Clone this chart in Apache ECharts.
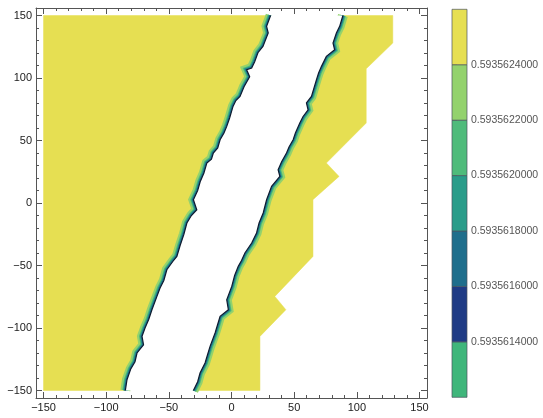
<!DOCTYPE html>
<html>
<head>
<meta charset="utf-8">
<script src="https://cdn.jsdelivr.net/npm/echarts@6/dist/echarts.min.js"></script>
<style>html,body{margin:0;padding:0;background:#fff}#c{width:543px;height:418px}</style>
</head>
<body>
<div id="c"></div>
<script>
// ---- data (data units) ----
const majorTicks = [-150, -100, -50, 0, 50, 100, 150];
const minorTicks = [-150,-140,-130,-120,-110,-100,-90,-80,-70,-60,-50,-40,-30,-20,-10,0,10,20,30,40,50,60,70,80,90,100,110,120,130,140,150];
const legendTicks = [0.5935614, 0.5935616, 0.5935618, 0.5935620, 0.5935622, 0.5935624];
const legendLevels = [0.5935612, 0.5935614, 0.5935616, 0.5935618, 0.5935620, 0.5935622, 0.5935624, 0.5935626];
const bandColors = ['#3fb67b', '#1f3b85', '#1f6e8c', '#2a9c8a', '#4fbb7b', '#93d26d', '#e6df52'];

// left region contour edge (top -> bottom)
const leftEdge = [[31.2,150],[28,141.3],[29.3,136],[25.1,125.3],[21.1,120.2],[18.5,113],[16.1,108],[12.1,106.6],[14.5,101],[10,93],[6.8,85.3],[3.5,82],[1.2,77.3],[-1.5,68],[-3.8,61.3],[-6,56],[-9.1,50.6],[-11,44],[-14.5,40],[-16,35],[-19.7,32],[-22,24],[-25,17],[-27,10],[-30.4,2.6],[-27.7,-5.4],[-32,-10],[-35.6,-16],[-38,-25],[-41,-34],[-43.6,-42.7],[-47,-47],[-51.6,-53.4],[-54,-62],[-57,-68],[-59.5,-74.7],[-63.5,-85.4],[-66,-93],[-69,-100],[-71.4,-106.7],[-70.2,-113.4],[-75.4,-120],[-77,-127],[-80.5,-133],[-83.4,-141.4],[-84.7,-150]];
// right band contour edge (top -> bottom)
const bandEdge = [[88.9,150],[86.3,141.3],[83.7,136],[81,128],[82.3,122.6],[75.7,117.3],[71.8,109.3],[69.5,104],[67.8,98.6],[63.8,85.3],[59.8,80],[61.1,74.6],[57,69],[54.5,64],[51,56],[49.2,50.6],[46,45],[43.9,40],[40,33],[37.2,26.6],[38.6,21.3],[32,13.3],[28,2.6],[25.3,-8],[22,-16],[20,-24],[16.1,-32],[10.7,-40],[8,-46],[5.4,-50.7],[2.5,-58],[0.2,-66.7],[-3.8,-77.4],[-2.5,-85.4],[-9.1,-90.7],[-11,-97],[-13.1,-104],[-17.1,-114.7],[-19,-121],[-21.1,-128],[-25.1,-136],[-27,-143],[-30.4,-150]];
// right band outer boundary (top -> bottom)
const rightBoundary = [[128.7,150],[128.7,128],[107.5,107.4],[107.5,64],[75.7,32],[85.8,21.3],[65,2.7],[65,-42.7],[34.6,-74.7],[43.4,-85.4],[22.7,-106.7],[22.7,-150]];
const plotMin = -150, plotMax = 150;

// ---- chart ----
const chart = echarts.init(document.getElementById('c'), null, {renderer: 'canvas'});
const frameColor = '#555';
const fmt = v => (v < 0 ? '\u2212' : '') + Math.abs(v);

function axis(pos, ticks, len, withLine, withLabel) {
  return {
    type: 'value', gridIndex: 0, position: pos, min: -156, max: 156,
    axisLine: {show: withLine, onZero: false, lineStyle: {color: frameColor, width: 1}},
    axisTick: {show: true, inside: true, length: len, customValues: ticks, lineStyle: {color: frameColor, width: 1}},
    axisLabel: withLabel ? {show: true, customValues: majorTicks, formatter: fmt, fontSize: 11, color: '#222', fontFamily: 'Liberation Sans, Arial, sans-serif', margin: 4} : {show: false},
    splitLine: {show: false}
  };
}

const yellow = bandColors[6];

const option = {
  animation: false,
  backgroundColor: '#fff',
  grid: [
    {left: 36, right: 116, top: 8, bottom: 20},
    {left: 452, width: 15, top: 9.3, bottom: 20.7}
  ],
  xAxis: [
    axis('bottom', majorTicks, 6, true, true),
    axis('bottom', minorTicks, 3, false, false),
    axis('top', majorTicks, 6, true, false),
    axis('top', minorTicks, 3, false, false),
    {type: 'value', gridIndex: 1, min: 0, max: 1, show: false}
  ],
  yAxis: [
    axis('left', majorTicks, 6, true, true),
    axis('left', minorTicks, 3, false, false),
    axis('right', majorTicks, 6, true, false),
    axis('right', minorTicks, 3, false, false),
    {
      type: 'value', gridIndex: 1, position: 'right',
      min: legendLevels[0], max: legendLevels[legendLevels.length - 1],
      axisLine: {show: false},
      axisTick: {show: true, length: 5, customValues: legendTicks, lineStyle: {color: '#777'}},
      axisLabel: {show: true, customValues: legendTicks, formatter: v => v.toFixed(10), fontSize: 10.5, color: '#555', fontFamily: 'Liberation Sans, Arial, sans-serif', margin: 4},
      splitLine: {show: false}
    }
  ],
  series: [
    {
      type: 'custom', coordinateSystem: 'cartesian2d', xAxisIndex: 0, yAxisIndex: 0,
      data: [[0, 0]], silent: true,
      renderItem: function (params, api) {
        const P = arr => arr.map(p => api.coord(p));
        const leftPoly = [[plotMin, plotMax]].concat(leftEdge).concat([[plotMin, plotMin]]);
        const rightPoly = rightBoundary.concat(bandEdge.slice().reverse());
        const gapPoly = leftEdge.concat(bandEdge.slice().reverse());
        const ch = [];
        ch.push({type: 'polygon', shape: {points: P(leftPoly)}, style: {fill: yellow, stroke: yellow, lineWidth: 0.5}});
        ch.push({type: 'polygon', shape: {points: P(rightPoly)}, style: {fill: yellow, stroke: yellow, lineWidth: 0.5}});
        const strokes = [[bandColors[5], 10], [bandColors[4], 6], [bandColors[3], 4.2], [bandColors[2], 2.8]];
        [leftEdge, bandEdge].forEach(edge => {
          strokes.forEach(s => {
            ch.push({type: 'polyline', shape: {points: P(edge)}, style: {fill: null, stroke: s[0], lineWidth: s[1], lineJoin: 'miter', miterLimit: 3, lineCap: 'butt'}});
          });
        });
        ch.push({type: 'polygon', shape: {points: P(gapPoly)}, style: {fill: '#fff', stroke: null}});
        [leftEdge, bandEdge].forEach(edge => {
          ch.push({type: 'polyline', shape: {points: P(edge)}, style: {fill: null, stroke: '#0d1b2e', lineWidth: 1.2, lineJoin: 'miter', lineCap: 'butt'}});
        });
        return {type: 'group', children: ch};
      },
      z: 1
    },
    {
      type: 'custom', coordinateSystem: 'cartesian2d', xAxisIndex: 4, yAxisIndex: 4,
      data: bandColors.map((c, i) => [i, legendLevels[i], legendLevels[i + 1]]), silent: true,
      renderItem: function (params, api) {
        const i = api.value(0);
        const a = api.coord([0, api.value(2)]);
        const b = api.coord([1, api.value(1)]);
        return {type: 'rect', shape: {x: a[0], y: a[1], width: b[0] - a[0], height: b[1] - a[1]},
          style: {fill: bandColors[i], stroke: '#4a5560', lineWidth: 0.7}};
      }
    }
  ]
};
chart.setOption(option);
</script>
</body>
</html>
